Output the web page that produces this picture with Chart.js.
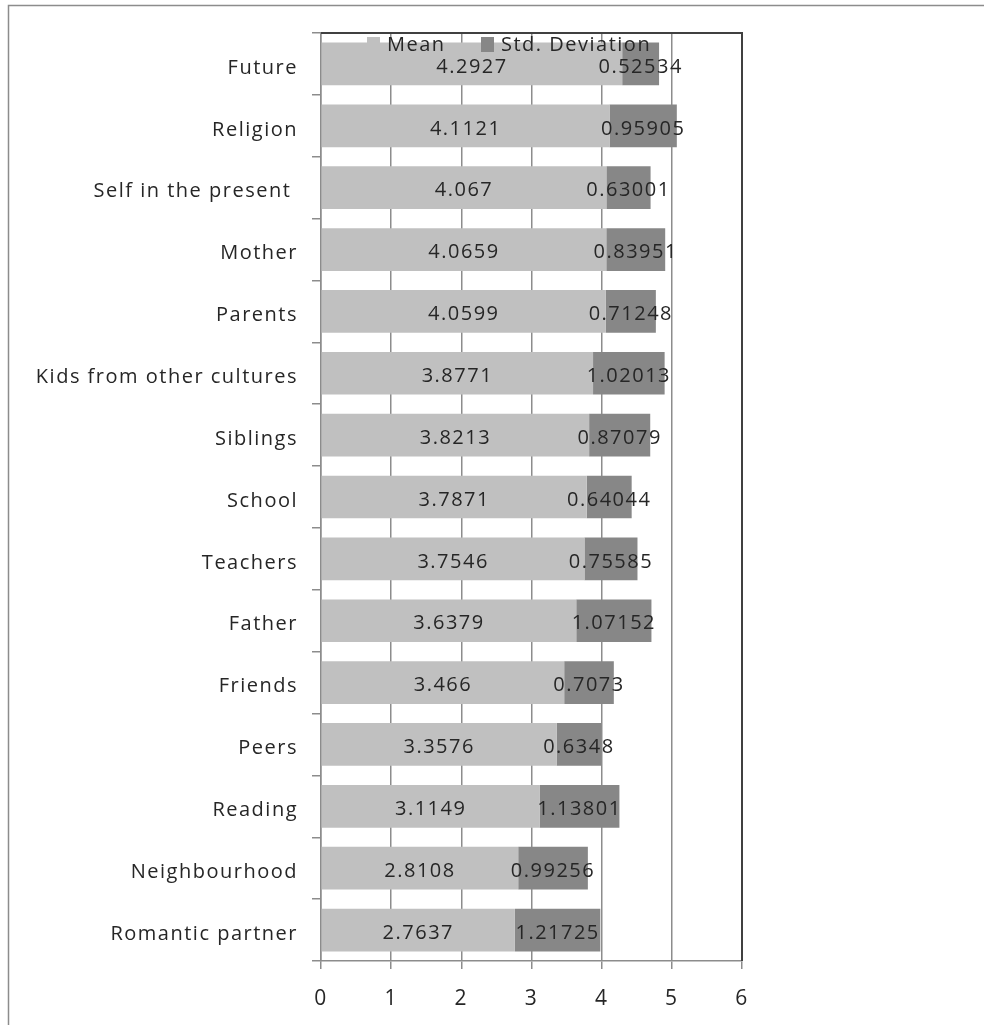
<!DOCTYPE html>
<html>
<head>
<meta charset="utf-8">
<script src="https://cdn.jsdelivr.net/npm/chart.js@4/dist/chart.umd.min.js"></script>
<style>
html,body{margin:0;padding:0;background:#fff;}
#wrap{position:relative;width:984px;height:1025px;}
</style>
</head>
<body>
<div id="wrap"><canvas id="c" width="984" height="1025"></canvas></div>
<script>
const categories = ["Future","Religion","Self in the present ","Mother","Parents","Kids from other cultures","Siblings","School","Teachers","Father","Friends","Peers","Reading","Neighbourhood","Romantic partner"];
const meanValues = [4.2927,4.1121,4.067,4.0659,4.0599,3.8771,3.8213,3.7871,3.7546,3.6379,3.466,3.3576,3.1149,2.8108,2.7637];
const stdValues = [0.52534,0.95905,0.63001,0.83951,0.71248,1.02013,0.87079,0.64044,0.75585,1.07152,0.7073,0.6348,1.13801,0.99256,1.21725];
const xTicks = [0,1,2,3,4,5,6];
const seriesNames = ["Mean","Std. Deviation"];

const FONT = "'Open Sans', 'Liberation Sans', sans-serif";
const TXT = '#262626';
const SPACING = '1.5px';

const framePlugin = {
  id:'frame',
  beforeUpdate(chart){ chart.ctx.letterSpacing = SPACING; },
  beforeDraw(chart){
    const ctx = chart.ctx;
    ctx.letterSpacing = SPACING;
    ctx.save();
    ctx.fillStyle='#fff';
    ctx.fillRect(0,0,chart.width,chart.height);
    ctx.strokeStyle='#8c8c8c';
    ctx.lineWidth=1.5;
    ctx.strokeRect(8.5,5.5,980,1030);
    ctx.restore();
  },
  afterDatasetsDraw(chart){
    const ctx = chart.ctx;
    const a = chart.chartArea;
    ctx.save();
    ctx.letterSpacing = SPACING;
    // value labels
    ctx.font = "20px " + FONT;
    ctx.fillStyle = TXT;
    ctx.textAlign='center';
    ctx.textBaseline='middle';
    chart.data.datasets.forEach((ds,di)=>{
      const meta = chart.getDatasetMeta(di);
      meta.data.forEach((el,i)=>{
        const p = el.getProps(['x','y','base'],true);
        ctx.fillText(String(ds.data[i]), (p.x+p.base)/2, p.y+3);
      });
    });
    // plot frame top and right
    ctx.strokeStyle='#404040';
    ctx.lineWidth=2;
    ctx.beginPath();
    ctx.moveTo(a.left,a.top);
    ctx.lineTo(a.right,a.top);
    ctx.lineTo(a.right,a.bottom);
    ctx.stroke();
    // legend
    ctx.font = "20px " + FONT;
    ctx.textAlign='left';
    ctx.textBaseline='middle';
    const lx = [367, 481];
    const ly = 45;
    chart.data.datasets.forEach((ds,di)=>{
      ctx.fillStyle = ds.backgroundColor;
      ctx.fillRect(lx[di], ly-8, 13, 15);
      ctx.fillStyle = TXT;
      ctx.fillText(ds.label, lx[di]+20, ly);
    });
    ctx.restore();
  }
};

new Chart(document.getElementById('c'), {
  type:'bar',
  data:{
    labels: categories,
    datasets:[
      {label: seriesNames[0], data: meanValues, backgroundColor:'#c0c0c0', barPercentage:0.69, categoryPercentage:1},
      {label: seriesNames[1], data: stdValues, backgroundColor:'#878787', barPercentage:0.69, categoryPercentage:1}
    ]
  },
  options:{
    indexAxis:'y',
    responsive:false,
    animation:false,
    devicePixelRatio:1,
    layout:{padding:{left:0,top:33,right:242,bottom:0}},
    plugins:{legend:{display:false}, tooltip:{enabled:false}},
    scales:{
      x:{
        stacked:true, min:0, max:6,
        afterBuildTicks(s){ s.ticks = xTicks.map(v=>({value:v})); },
        afterFit(s){ s.height = 64; },
        grid:{color:'#8c8c8c', lineWidth:1.5, tickLength:8, drawTicks:true},
        border:{color:'#8c8c8c', width:1.5},
        ticks:{font:{size:21,family:FONT}, color:TXT, padding:17}
      },
      y:{
        stacked:true,
        afterFit(s){ s.width = 321; },
        grid:{offset:true, drawOnChartArea:false, color:'#8c8c8c', lineWidth:1.5, tickLength:9},
        border:{color:'#8c8c8c', width:1.5},
        ticks:{font:{size:20,family:FONT}, color:TXT, padding:14, labelOffset:4}
      }
    }
  },
  plugins:[framePlugin]
});
</script>
</body>
</html>
